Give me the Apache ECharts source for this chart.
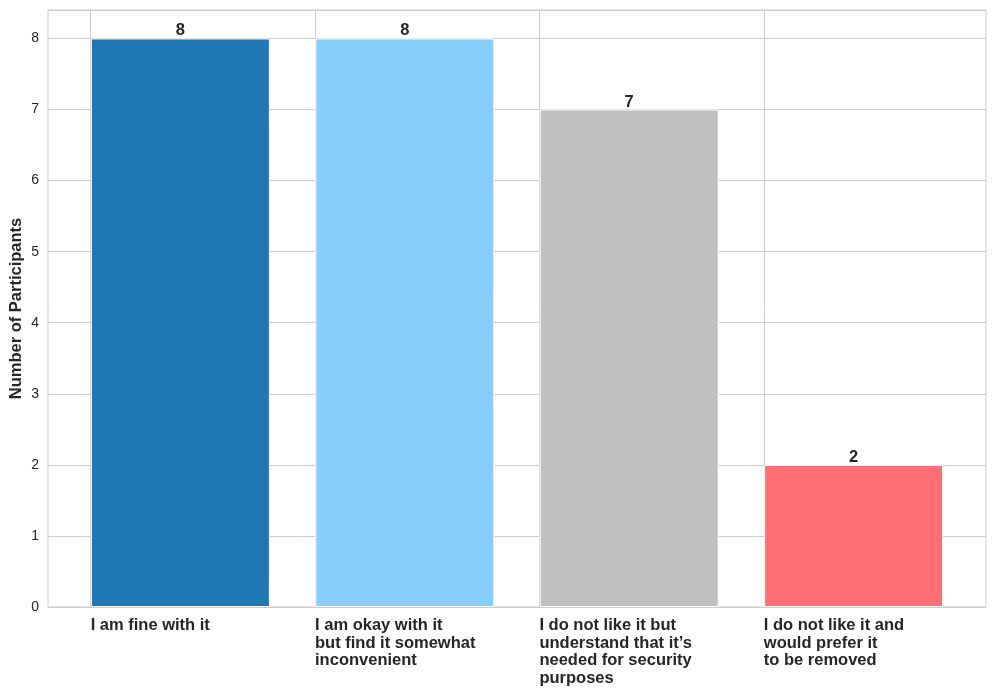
<!DOCTYPE html>
<html>
<head>
<meta charset="utf-8">
<script src="https://cdn.jsdelivr.net/npm/echarts@6/dist/echarts.min.js"></script>
<style>html,body{margin:0;padding:0;background:#fff;}#c{width:996px;height:696px;}</style>
</head>
<body>
<div id="c"></div>
<script>
const categories = [
  "I am fine with it",
  "I am okay with it\nbut find it somewhat\ninconvenient",
  "I do not like it but\nunderstand that it\u2019s\nneeded for security\npurposes",
  "I do not like it and\nwould prefer it\nto be removed"
];
const values = [8, 8, 7, 2];
const colors = ["#1f77b4", "#87cefa", "#c0c0c0", "#ff7076"];
const yTicks = [0, 1, 2, 3, 4, 5, 6, 7, 8];

const tickPositions = categories.map((c, i) => i);
const FONT = 'Liberation Sans, Arial, sans-serif';
const chart = echarts.init(document.getElementById('c'));
chart.setOption({
  animation: false,
  backgroundColor: '#ffffff',
  grid: { left: 48, right: 10, top: 10, bottom: 89, show: true, borderColor: '#cccccc', borderWidth: 1, backgroundColor: 'transparent', containLabel: false, outerBoundsMode: 'none' },
  xAxis: {
    type: 'value', min: -0.19, max: 3.99,
    axisLine: { show: false }, axisTick: { show: false, customValues: tickPositions },
    splitLine: { show: true, customValues: tickPositions, lineStyle: { color: '#cccccc', width: 1 } },
    axisLabel: {
      customValues: tickPositions,
      formatter: v => categories[Math.round(v)] || '',
      align: 'left', verticalAlign: 'top', margin: 10,
      fontFamily: FONT, fontSize: 16.5, fontWeight: 'bold',
      color: '#262626', lineHeight: 17.5
    }
  },
  yAxis: {
    type: 'value', min: 0, max: 8.4, interval: 1,
    name: 'Number of Participants', nameLocation: 'middle', nameGap: 32, nameMoveOverlap: false,
    nameTextStyle: { fontFamily: FONT, fontSize: 16.5, fontWeight: 'bold', color: '#262626', verticalAlign: 'middle' },
    axisLine: { show: false }, axisTick: { show: false },
    splitLine: { show: true, lineStyle: { color: '#cccccc', width: 1 } },
    axisLabel: {
      formatter: v => yTicks.includes(v) ? String(v) : '',
      fontFamily: FONT, fontSize: 14, color: '#262626', margin: 9
    }
  },
  series: [{
    type: 'bar',
    barWidth: 179,
    data: values.map((v, i) => ({ value: [i + 0.4, v], itemStyle: { color: colors[i] } })),
    itemStyle: { borderColor: '#ffffff', borderWidth: 1 },
    label: {
      show: true, position: 'top', distance: -1,
      formatter: p => String(p.value[1]),
      fontFamily: FONT, fontSize: 16.5, fontWeight: 'bold', color: '#262626'
    }
  }]
});
</script>
</body>
</html>
